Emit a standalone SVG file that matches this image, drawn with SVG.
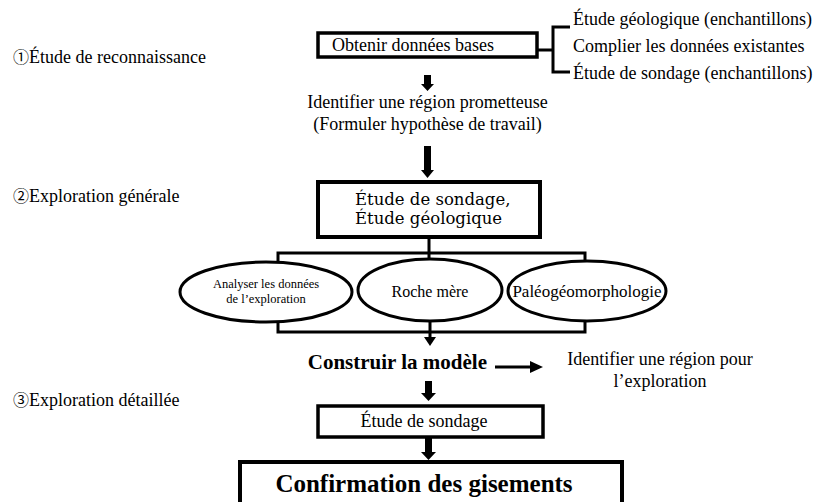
<svg xmlns="http://www.w3.org/2000/svg" width="826" height="502" viewBox="0 0 826 502">
  <style>
    .t { font-family: "Liberation Serif", "DejaVu Serif", serif; font-size: 18px; fill: #000; }
    .num { font-family: "Noto Sans CJK JP", "DejaVu Sans", sans-serif; font-size: 16px; }
    .s13 { font-size: 12.5px; }
    .s16 { font-size: 16px; }
    .s17 { font-size: 17px; }
    .b { font-family: "Liberation Serif", "DejaVu Serif", serif; font-weight: bold; fill: #000; }
    .c { font-family: "DejaVu Serif", serif; font-size: 16.5px; fill: #000; }
    .box { fill: #fff; stroke: #000; stroke-width: 3.5; }
    .thick { stroke-width: 4; }
    .ell { fill: #fff; stroke: #000; stroke-width: 3; }
    .ln { fill: none; stroke: #000; stroke-width: 3; }
    .blk { fill: #000; stroke: none; }
  </style>
  <rect width="826" height="502" fill="#fff"/>

  <!-- phase labels -->
  <g id="phases">
    <text class="t" x="13" y="63"><tspan class="num">①</tspan>Étude de reconnaissance</text>
    <text class="t" x="13" y="202"><tspan class="num">②</tspan>Exploration générale</text>
    <text class="t" x="13" y="406"><tspan class="num">③</tspan>Exploration détaillée</text>
  </g>

  <!-- connectors -->
  <g id="connectors">
    <!-- bracket to base data sources -->
    <path class="ln" d="M537 50 H553 M570 27 H553 V72 H570"/>
    <!-- block arrows along the spine -->
    <polygon class="blk" points="424,75 431,75 431,84 434,84 427.5,91 421,84 424,84"/>
    <polygon class="blk" points="424,146 431,146 431,170 434,170 427.5,178 421,170 424,170"/>
    <polygon class="blk" points="425,381 432,381 432,393 436,393 428.5,401 421,393 425,393"/>
    <polygon class="blk" points="425,438 432,438 432,452 436,452 428.5,460 421,452 425,452"/>
    <!-- fan-out to the three studies -->
    <path class="ln" d="M429 237 V259 M278 263 V253 H585 V263"/>
    <!-- fan-in -->
    <path class="ln" d="M278 321 V332 H585 V321 M430 321 V339"/>
    <polygon class="blk" points="424,337 436,337 430,346"/>
    <!-- model to region arrow -->
    <path class="ln" d="M495 367 H532"/>
    <polygon class="blk" points="530,361 543,367 530,373"/>
  </g>

  <g id="sources">
    <text class="t" x="573" y="25">Étude géologique (enchantillons)</text>
    <text class="t" x="573" y="52">Complier les données existantes</text>
    <text class="t" x="573" y="79">Étude de sondage (enchantillons)</text>
  </g>

  <g id="node-base">
    <rect class="box" x="318" y="33" width="219" height="24"/>
    <text class="t" x="332" y="51">Obtenir données bases</text>
  </g>

  <g id="node-hypothesis">
    <text class="t" x="427.5" y="108" text-anchor="middle">Identifier une région prometteuse</text>
    <text class="t" x="427.5" y="130" text-anchor="middle">(Formuler hypothèse de travail)</text>
  </g>

  <g id="node-survey">
    <rect class="box thick" x="318" y="182" width="222" height="55"/>
    <text class="c" x="355" y="205">Étude de sondage,</text>
    <text class="c" x="355" y="224">Étude géologique</text>
  </g>

  <g id="node-analyse">
    <ellipse class="ell" cx="266" cy="292" rx="86" ry="30"/>
    <text class="t s13" x="266" y="288" text-anchor="middle">Analyser les données</text>
    <text class="t s13" x="266" y="303" text-anchor="middle">de l’exploration</text>
  </g>

  <g id="node-roche">
    <ellipse class="ell" cx="430" cy="290" rx="72" ry="31"/>
    <text class="t s16" x="430" y="297" text-anchor="middle">Roche mère</text>
  </g>

  <g id="node-paleo">
    <ellipse class="ell" cx="587" cy="291" rx="79" ry="30"/>
    <text class="t s17" x="587" y="297" text-anchor="middle">Paléogéomorphologie</text>
  </g>

  <g id="node-model">
    <text class="b" x="487" y="369" text-anchor="end" style="font-size:21px">Construir la modèle</text>
  </g>

  <g id="node-region">
    <text class="t" x="660" y="365" text-anchor="middle">Identifier une région pour</text>
    <text class="t" x="660" y="387" text-anchor="middle">l’exploration</text>
  </g>

  <g id="node-detail">
    <rect class="box" x="318" y="406" width="225" height="31"/>
    <text class="t" x="424" y="427" text-anchor="middle">Étude de sondage</text>
  </g>

  <g id="node-confirm">
    <rect class="box thick" x="240" y="462" width="382" height="60"/>
    <text class="b" x="424" y="492" text-anchor="middle" style="font-size:25px">Confirmation des gisements</text>
  </g>
</svg>
